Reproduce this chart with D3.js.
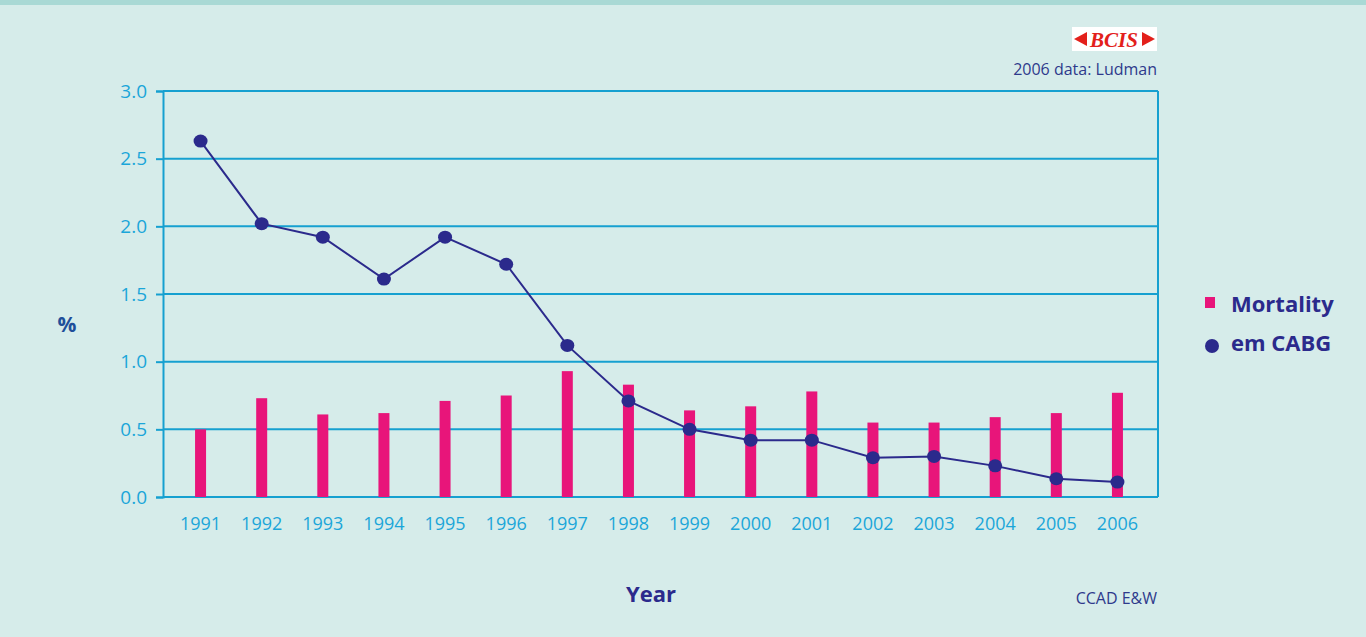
<!DOCTYPE html>
<html><head><meta charset="utf-8">
<script src="https://cdn.jsdelivr.net/npm/d3@7"></script>
<style>
html,body{margin:0;padding:0;background:#d6ecea;}
svg{display:block;font-family:"Open Sans","Noto Sans",sans-serif;}
</style></head>
<body>
<svg id="c" width="1366" height="637"></svg>
<script>
const years = ["1991","1992","1993","1994","1995","1996","1997","1998","1999","2000","2001","2002","2003","2004","2005","2006"];
const mortality = [0.50,0.73,0.61,0.62,0.71,0.75,0.93,0.83,0.64,0.67,0.78,0.55,0.55,0.59,0.62,0.77];
const emCABG = [2.63,2.02,1.92,1.61,1.92,1.72,1.12,0.71,0.50,0.42,0.42,0.29,0.30,0.23,0.135,0.11];
const yTicks = [0,0.5,1.0,1.5,2.0,2.5,3.0];

const pink = "#e8157a", navy = "#2b2a8c", axisBlue = "#16a0d0", tickBlue = "#1ba6d9";
const svg = d3.select("#c");
svg.append("rect").attr("x",0).attr("y",0).attr("width",1366).attr("height",637).attr("fill","#d6ecea");
svg.append("rect").attr("x",0).attr("y",0).attr("width",1366).attr("height",5).attr("fill","#a9d9d5");

const L=163, R=1158, T=91, B=497;
const x = d3.scaleBand().domain(years).range([170,1148]);
const y = d3.scaleLinear().domain([0,3]).range([B,T]);

// gridlines
svg.append("g").selectAll("line").data(yTicks).join("line")
  .attr("x1",L).attr("x2",R).attr("y1",d=>y(d)).attr("y2",d=>y(d))
  .attr("stroke",axisBlue).attr("stroke-width",2);
svg.append("line").attr("x1",R).attr("x2",R).attr("y1",T).attr("y2",B).attr("stroke",axisBlue).attr("stroke-width",2);

// y axis
const ya = svg.append("g").attr("transform",`translate(${L},0)`)
  .call(d3.axisLeft(y).tickValues(yTicks).tickFormat(d3.format(".1f")).tickSize(7).tickPadding(9));
ya.select(".domain").attr("stroke",axisBlue).attr("stroke-width",2);
ya.selectAll(".tick line").attr("stroke",axisBlue).attr("stroke-width",2);
ya.selectAll("text").attr("fill",tickBlue).attr("font-size",19).attr("font-weight",400).attr("font-family","Open Sans");

// x labels
const xa = svg.append("g").attr("transform",`translate(0,${B})`)
  .call(d3.axisBottom(x).tickSize(0).tickPadding(20));
xa.select(".domain").remove();
xa.selectAll("text").attr("fill",tickBlue).attr("font-size",18).attr("font-weight",400).attr("font-family","Open Sans");

// bars
const bw = 11;
svg.append("g").selectAll("rect").data(years).join("rect")
  .attr("x",(d)=>x(d)+x.bandwidth()/2-bw/2).attr("width",bw)
  .attr("y",(d,i)=>y(mortality[i])).attr("height",(d,i)=>B-y(mortality[i]))
  .attr("fill",pink);

// line
const line = d3.line().x((d,i)=>x(years[i])+x.bandwidth()/2).y(d=>y(d));
svg.append("path").datum(emCABG).attr("d",line).attr("fill","none").attr("stroke",navy).attr("stroke-width",2);
svg.append("g").selectAll("ellipse").data(emCABG).join("ellipse")
  .attr("cx",(d,i)=>x(years[i])+x.bandwidth()/2).attr("cy",d=>y(d))
  .attr("rx",7).attr("ry",6.5).attr("fill",navy);

// axis titles
svg.append("text").attr("x",67).attr("y",332).attr("text-anchor","middle")
  .attr("font-size",21).attr("font-weight",700).attr("fill","#1f4f9a").text("%");
svg.append("text").attr("x",651).attr("y",602).attr("text-anchor","middle")
  .attr("font-size",22).attr("font-weight",700).attr("fill",navy).text("Year");

// legend
svg.append("rect").attr("x",1205).attr("y",297).attr("width",10).attr("height",11).attr("fill",pink);
svg.append("text").attr("x",1231).attr("y",312).attr("font-size",22).attr("font-weight",700).attr("fill",navy).text("Mortality");
svg.append("circle").attr("cx",1212).attr("cy",346).attr("r",7).attr("fill",navy);
svg.append("text").attr("x",1231).attr("y",351).attr("font-size",22).attr("font-weight",700).attr("fill",navy).text("em CABG");

// notes
svg.append("text").attr("x",1157).attr("y",75).attr("text-anchor","end").attr("font-size",16).attr("fill","#2e3a8c").text("2006 data: Ludman");
svg.append("text").attr("x",1157).attr("y",604).attr("text-anchor","end").attr("font-size",16).attr("fill","#2e3a8c").text("CCAD E&W");

// BCIS logo
const lg = svg.append("g");
lg.append("rect").attr("x",1072).attr("y",27).attr("width",85).attr("height",24).attr("fill","#ffffff");
lg.append("path").attr("d","M1074,39 L1087,32 L1087,46 Z").attr("fill","#e3201b");
lg.append("path").attr("d","M1155,39 L1142,32 L1142,46 Z").attr("fill","#e3201b");
lg.append("text").attr("x",1114).attr("y",47).attr("text-anchor","middle").attr("font-family","Liberation Serif")
  .attr("font-style","italic").attr("font-weight",700).attr("font-size",21).attr("fill","#e3201b").text("BCIS");
</script>
</body></html>
